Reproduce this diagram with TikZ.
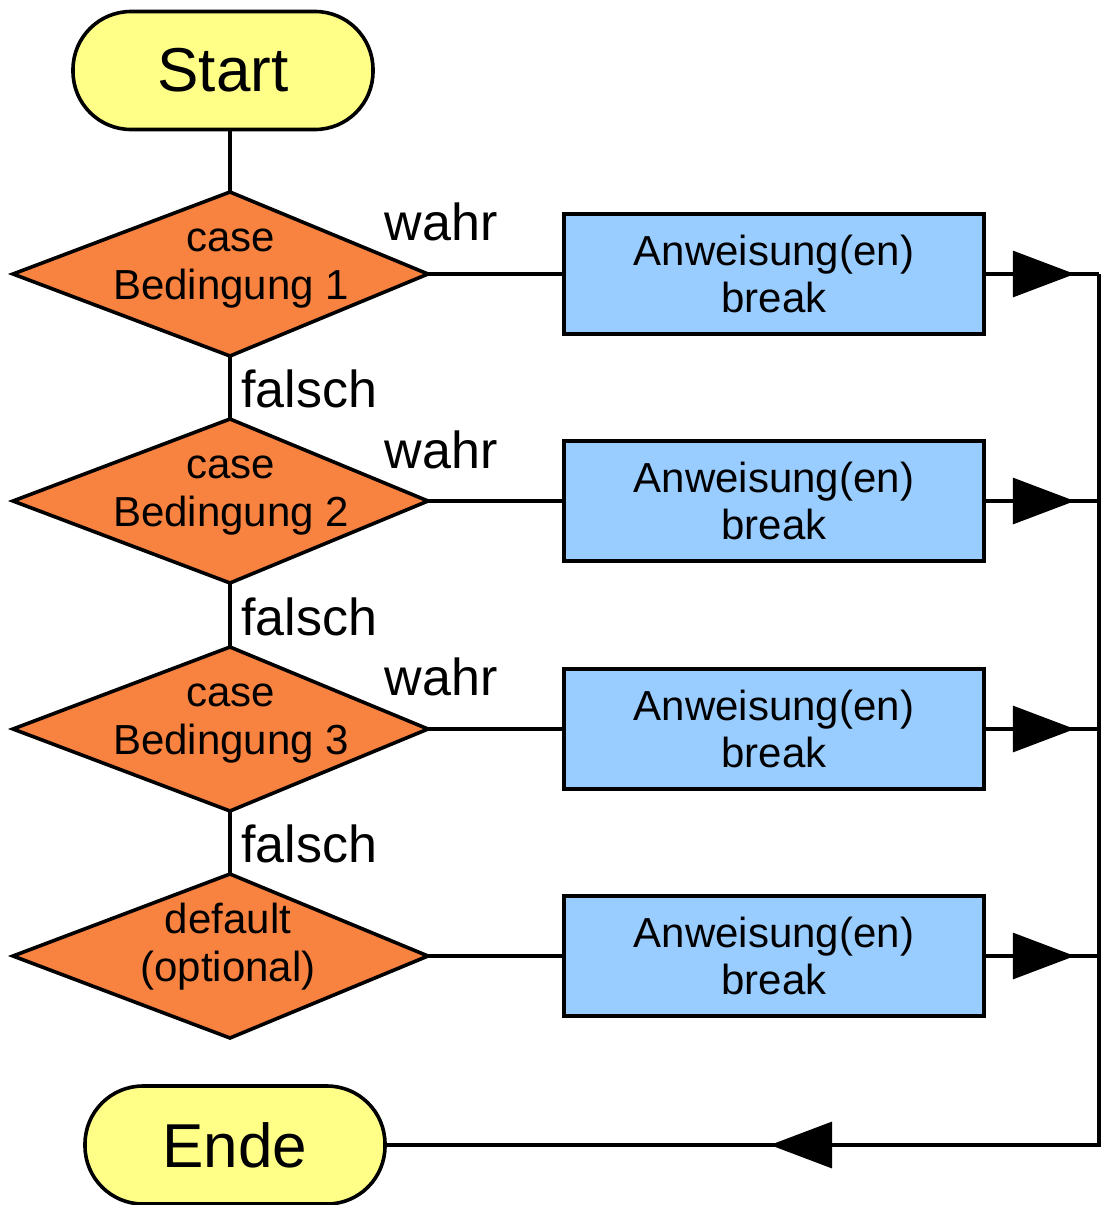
\documentclass[tikz,border=0pt]{standalone}
\usepackage{fontspec}
\setmainfont{Liberation Sans}
\usetikzlibrary{arrows.meta,decorations.markings}
\definecolor{termfill}{HTML}{FFFF88}
\definecolor{casefill}{HTML}{F8823F}
\definecolor{actfill}{HTML}{99CCFF}
\tikzset{
  terminal/.style={draw, line width=3.6pt, fill=termfill, rounded corners=58pt,
    minimum width=300pt, minimum height=118pt, inner sep=0pt,
    font=\fontsize{62}{70}\selectfont},
  casebox/.style={draw, line width=3.6pt, fill=casefill, line join=miter},
  casetext/.style={align=center, inner sep=0pt, font=\fontsize{42}{48}\selectfont},
  actbox/.style={draw, line width=3.6pt, fill=actfill, minimum width=420pt,
    minimum height=120pt, inner sep=0pt, align=center,
    font=\fontsize{42}{47}\selectfont},
  flow/.style={line width=3.2pt},
  branchlabel/.style={inner sep=0pt, font=\fontsize{52}{60}\selectfont},
  tipmark/.style={decoration={markings,
      mark=at position #1 with {\arrow{Triangle[length=62pt,width=46pt]}}},
    postaction={decorate}}
}
\begin{document}
\begin{tikzpicture}[x=1pt,y=-1pt]
\useasboundingbox (0,0) rectangle (1101,1205);

% terminals
\node[terminal] (start) at (223,70.5) {Start};
\node[terminal] (ende) at (235,1145) {Ende};

% case rows: decision diamond, action box, rail point
\foreach \i/\y in {1/274,2/501,3/729,4/956} {
  \coordinate (d\i t) at (230,\y-82);
  \coordinate (d\i b) at (230,\y+82);
  \coordinate (d\i l) at (13,\y);
  \coordinate (d\i r) at (428,\y);
  \path[casebox] (d\i l) -- (d\i t) -- (d\i r) -- (d\i b) -- cycle;
  \node[actbox] (b\i) at (774,\y) {Anweisung(en)\\break};
  \coordinate (r\i) at (1099,\y);
  \draw[flow] (d\i r) -- (b\i.west);
  \draw[flow, tipmark=89pt] (b\i.east) -- (r\i);
}
\coordinate (rE) at (1099,1145);

% diamond texts
\node[casetext] (c1) at (231,269) {case\\Bedingung 1};
\node[casetext] (c2) at (231,496) {case\\Bedingung 2};
\node[casetext] (c3) at (231,724) {case\\Bedingung 3};
\node[casetext] (c4) at (228,947) {default\\(optional)};

% vertical chain
\draw[flow] (start.south -| d1t) -- (d1t);
\draw[flow] (d1b) -- (d2t);
\draw[flow] (d2b) -- (d3t);
\draw[flow] (d3b) -- (d4t);

% branch labels
\node[branchlabel] (w1) at (441,222) {wahr};
\node[branchlabel] (w2) at (441,450) {wahr};
\node[branchlabel] (w3) at (441,677) {wahr};
\node[branchlabel, anchor=west] (f1) at (241,389) {falsch};
\node[branchlabel, anchor=west] (f2) at (241,617) {falsch};
\node[branchlabel, anchor=west] (f3) at (241,844) {falsch};

% collecting rail back to the end
\draw[flow, line join=miter, tipmark=1200pt] (r1) -- (rE) -- (ende.east);
\end{tikzpicture}
\end{document}
